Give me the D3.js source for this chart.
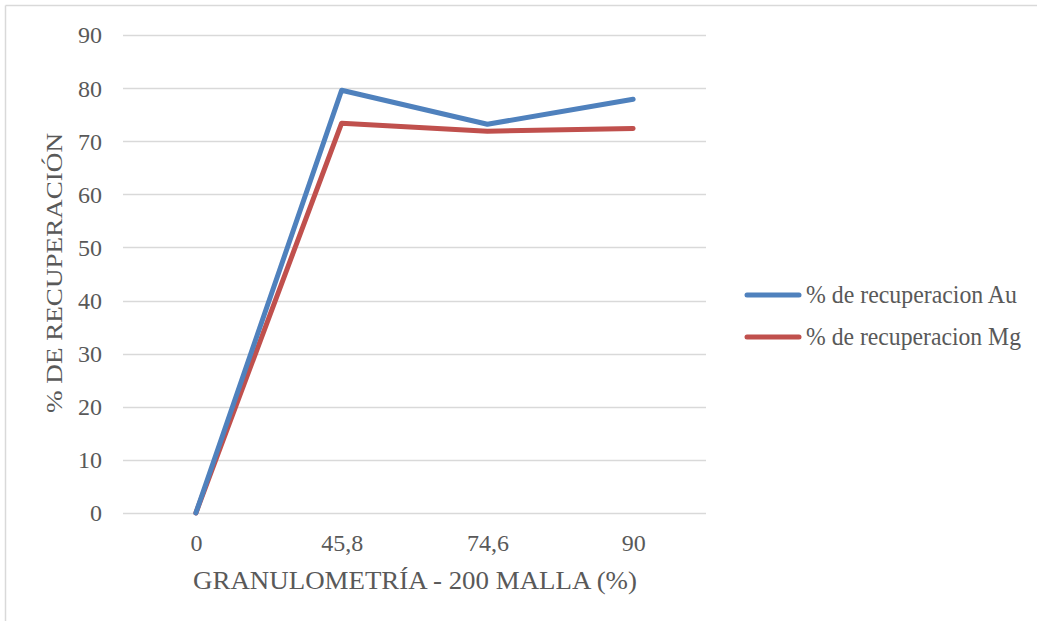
<!DOCTYPE html>
<html>
<head>
<meta charset="utf-8">
<script src="https://cdn.jsdelivr.net/npm/d3@7"></script>
<style>
  body { margin: 0; background: #fff; }
</style>
</head>
<body>
<div id="chart"></div>
<script>
// data
var categories = ["0", "45,8", "74,6", "90"];
var recAu = [0, 79.6, 73.2, 77.9];
var recMg = [0, 73.4, 71.9, 72.4];
var seriesNames = ["% de recuperacion Au", "% de recuperacion Mg"];
var yTicks = [0, 10, 20, 30, 40, 50, 60, 70, 80, 90];

var W = 1037, H = 621;
var plot = {left: 123, right: 706, top: 35, bottom: 513};
var serif = "'Liberation Serif'";
var textColor = "#595959";

var svg = d3.select("#chart").append("svg")
  .attr("width", W)
  .attr("height", H);

// outer frame (only top and left edges show)
svg.append("line").attr("x1", 5.5).attr("x2", W).attr("y1", 5.5).attr("y2", 5.5)
  .attr("stroke", "#d9d9d9").attr("stroke-width", 1.5);
svg.append("line").attr("x1", 5.5).attr("x2", 5.5).attr("y1", 5.5).attr("y2", H)
  .attr("stroke", "#d9d9d9").attr("stroke-width", 1.5);

var x = d3.scalePoint()
  .domain(categories)
  .range([plot.left, plot.right])
  .padding(0.5);

var y = d3.scaleLinear()
  .domain([0, 90])
  .range([plot.bottom, plot.top]);

// gridlines
svg.append("g")
  .selectAll("line")
  .data(yTicks)
  .enter().append("line")
  .attr("x1", plot.left)
  .attr("x2", plot.right)
  .attr("y1", d => Math.round(y(d)) + 0.5)
  .attr("y2", d => Math.round(y(d)) + 0.5)
  .attr("stroke", "#d9d9d9")
  .attr("stroke-width", 1.3);

// y axis labels
var yAxis = svg.append("g")
  .attr("transform", "translate(" + (plot.left - 21) + ",0)")
  .call(d3.axisLeft(y).tickValues(yTicks).tickSize(0).tickPadding(0));
yAxis.select(".domain").remove();
yAxis.selectAll("text")
  .attr("font-size", 24)
  .attr("dy", "0.33em")
  .attr("fill", textColor)
  .style("font-family", serif);

// x axis labels
var xAxis = svg.append("g")
  .attr("transform", "translate(0," + 551 + ")")
  .call(d3.axisBottom(x).tickSize(0).tickPadding(0));
xAxis.select(".domain").remove();
xAxis.selectAll("text")
  .attr("font-size", 24)
  .attr("dy", 0)
  .attr("y", 0)
  .attr("fill", textColor)
  .style("font-family", serif);

// axis titles
svg.append("text")
  .attr("x", 193)
  .attr("y", 589)
  .attr("font-size", 25)
  .attr("fill", textColor)
  .attr("textLength", 444)
  .attr("lengthAdjust", "spacingAndGlyphs")
  .style("font-family", serif)
  .text("GRANULOMETRÍA - 200 MALLA (%)");

svg.append("text")
  .attr("transform", "translate(62,413) rotate(-90)")
  .attr("font-size", 23)
  .attr("fill", textColor)
  .attr("textLength", 280)
  .attr("lengthAdjust", "spacingAndGlyphs")
  .style("font-family", serif)
  .text("% DE RECUPERACIÓN");

// lines
var colors = ["#4f81bd", "#c0504d"];
var line = d3.line()
  .x((d, i) => x(categories[i]))
  .y(d => y(d));

[recMg, recAu].forEach((s, k) => {
  svg.append("path")
    .datum(s)
    .attr("d", line)
    .attr("fill", "none")
    .attr("stroke", colors[1 - k])
    .attr("stroke-width", 5)
    .attr("stroke-linejoin", "round")
    .attr("stroke-linecap", "round");
});

// legend
var legend = svg.append("g")
  .selectAll("g")
  .data(seriesNames)
  .enter().append("g")
  .attr("transform", (d, i) => "translate(745," + (295 + i * 42) + ")");

legend.append("line")
  .attr("x1", 2).attr("x2", 54)
  .attr("stroke", (d, i) => colors[i])
  .attr("stroke-width", 5)
  .attr("stroke-linecap", "round");

legend.append("text")
  .attr("x", 61)
  .attr("dy", "0.33em")
  .attr("font-size", 25)
  .attr("fill", textColor)
  .attr("textLength", (d, i) => i === 0 ? 211 : 215)
  .attr("lengthAdjust", "spacingAndGlyphs")
  .style("font-family", serif)
  .text(d => d);
</script>
</body>
</html>
